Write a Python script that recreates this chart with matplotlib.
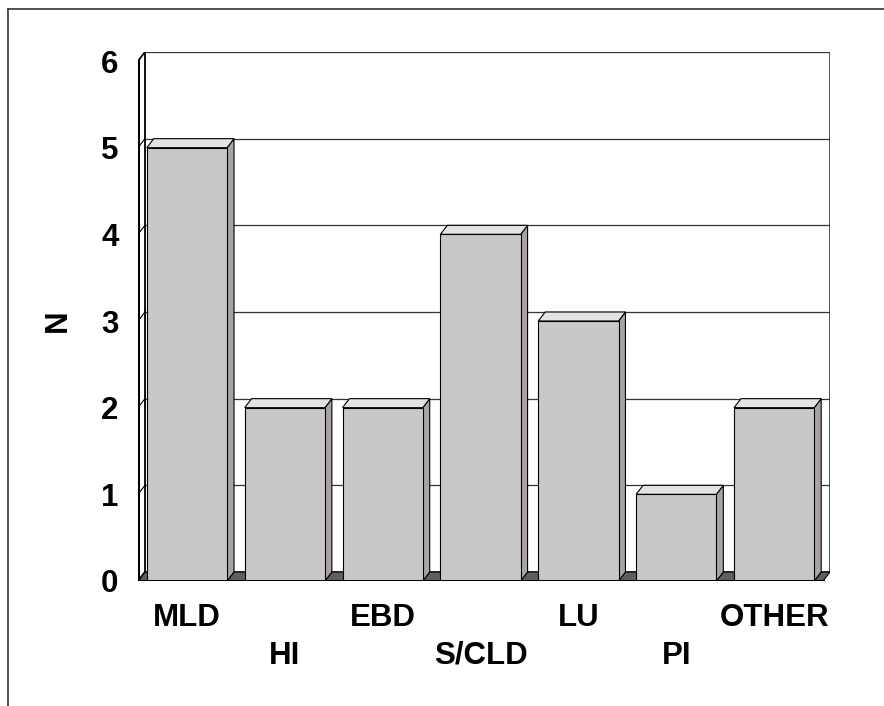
import matplotlib
matplotlib.use('Agg')
import matplotlib.pyplot as plt
from matplotlib.patches import Polygon
from matplotlib.lines import Line2D

# данные
categories = ['MLD', 'HI', 'EBD', 'S/CLD', 'LU', 'PI', 'OTHER']
counts = [5, 2, 2, 4, 3, 1, 2]
y_ticks = [0, 1, 2, 3, 4, 5, 6]

plt.rcParams['font.family'] = ['Liberation Sans', 'DejaVu Sans']
FS = 22.5

fig = plt.figure(figsize=(8.84, 7.06), dpi=100)
ax = fig.add_axes([138 / 884, 125 / 706, 692 / 884, 529 / 706])

dx, dy = 0.071, 0.104   # смещение глубины (псевдо-3D)
w = 0.82
x_lo, x_hi = -0.5, len(categories) - 0.5
y_top = max(y_ticks)

ax.set_xlim(x_lo, x_hi + dx)
ax.set_ylim(0, y_top + dy)

# задняя стенка и сетка
ax.add_patch(Polygon([(x_lo + dx, dy), (x_hi + dx, dy), (x_hi + dx, y_top + dy), (x_lo + dx, y_top + dy)],
                     closed=True, facecolor='white', edgecolor='#333333', lw=1.2, zorder=1))
for k in y_ticks[1:]:
    ax.add_line(Line2D([x_lo + dx, x_hi + dx], [k + dy, k + dy], color='#333333', lw=0.9, zorder=1.5))

# левая стенка
ax.add_patch(Polygon([(x_lo, 0), (x_lo + dx, dy), (x_lo + dx, y_top + dy), (x_lo, y_top)],
                     closed=True, facecolor='white', edgecolor='black', lw=1.2, zorder=2))
for k in y_ticks:
    ax.add_line(Line2D([x_lo, x_lo + dx], [k, k + dy], color='black', lw=0.8, zorder=2.1))
ax.add_line(Line2D([x_lo, x_lo], [0, y_top], color='black', lw=2.2, zorder=6))

# пол
ax.add_patch(Polygon([(x_lo, 0), (x_hi, 0), (x_hi + dx, dy), (x_lo + dx, dy)],
                     closed=True, facecolor='#5f5f5f', edgecolor='black', lw=0.8, zorder=2))

# столбцы
for i, v in enumerate(counts):
    x0, x1 = i - w / 2, i + w / 2
    ax.add_line(Line2D([x0, x0 + dx], [0, dy], color='black', lw=0.8, zorder=2.5))
    ax.add_line(Line2D([x1, x1 + dx], [0, dy], color='black', lw=0.8, zorder=2.5))
    ax.add_patch(Polygon([(x1, 0), (x1 + dx, dy), (x1 + dx, v + dy), (x1, v)],
                         closed=True, facecolor='#aba3a3', edgecolor='black', lw=0.8, zorder=3))
    ax.add_patch(Polygon([(x0, v), (x0 + dx, v + dy), (x1 + dx, v + dy), (x1, v)],
                         closed=True, facecolor='#e3e3e3', edgecolor='black', lw=0.8, zorder=3))
    ax.bar(i, v, width=w, color='#c8c8c8', edgecolor='black', lw=0.8, zorder=4)

ax.add_line(Line2D([x_lo, x_hi], [0, 0], color='black', lw=2.2, zorder=6))

for s in ax.spines.values():
    s.set_visible(False)

ax.set_yticks(y_ticks)
ax.set_yticklabels([str(t) for t in y_ticks], fontsize=FS, fontweight='bold')
ax.tick_params(axis='y', length=0, pad=14)
ax.set_xticks(range(len(categories)))
ax.set_xticklabels(categories, fontsize=FS, fontweight='bold')
ax.tick_params(axis='x', length=0)
for i, t in enumerate(ax.xaxis.get_major_ticks()):
    t.set_pad(16 if i % 2 == 0 else 43)

ax.set_ylabel('N', fontsize=FS, fontweight='bold', rotation=90)
ax.yaxis.set_label_coords(-0.094, 0.493)

# рамка рисунка
fig.add_artist(Line2D([8 / 884, 1], [1 - 9 / 706, 1 - 9 / 706], color='#333333', lw=1.2))
fig.add_artist(Line2D([8 / 884, 8 / 884], [0, 1 - 9 / 706], color='#333333', lw=1.2))

fig.savefig('out.png', dpi=100)
